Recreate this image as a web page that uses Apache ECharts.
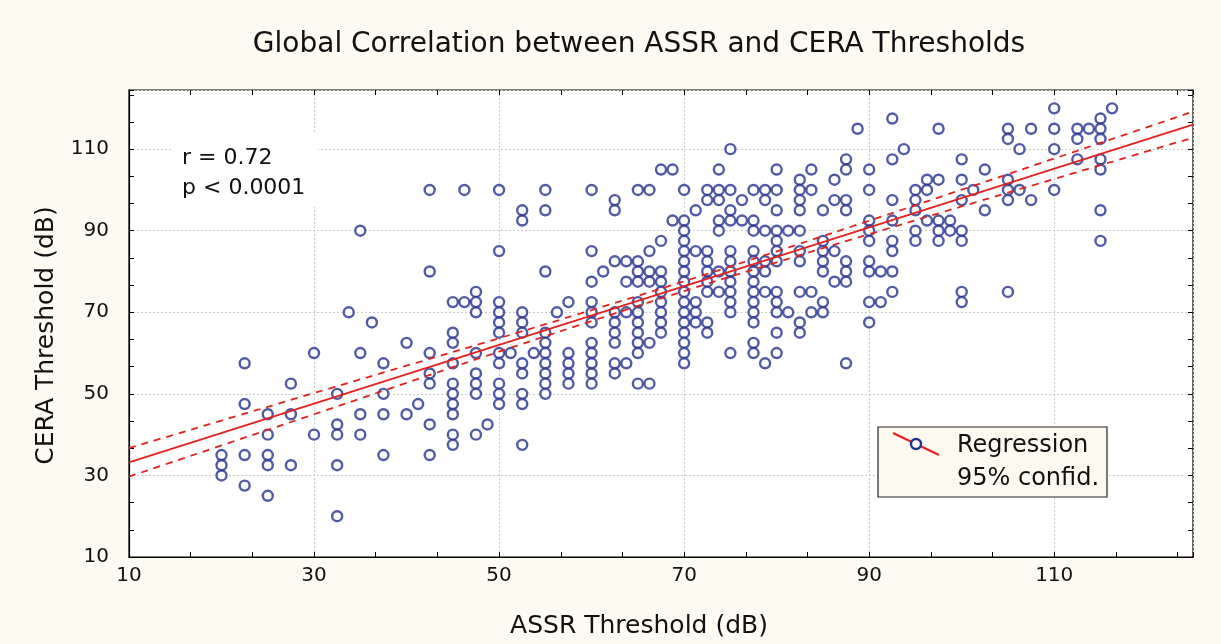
<!DOCTYPE html>
<html><head><meta charset="utf-8">
<script src="https://cdn.jsdelivr.net/npm/echarts@6/dist/echarts.min.js"></script>
<style>html,body{margin:0;padding:0;background:#fcfaf1;}#c{width:1221px;height:644px;}</style>
</head><body><div id="c"></div>
<script>
const titleText = 'Global Correlation between ASSR and CERA Thresholds';
const xName = 'ASSR Threshold (dB)';
const yName = 'CERA Threshold (dB)';
const xTicks = [10, 30, 50, 70, 90, 110];
const yTicks = [10, 30, 50, 70, 90, 110];

// ASSR threshold columns and the CERA thresholds observed at each
const assrLevels = [20, 22.5, 25, 27.5, 30, 32.5, 33.75, 35, 36.25, 37.5, 40, 41.25, 42.5, 45, 46.25, 47.5, 48.75, 50, 51.25, 52.5, 53.75, 55, 56.25, 57.5, 60, 61.25, 62.5, 63.75, 65, 66.25, 67.5, 68.75, 70, 71.25, 72.5, 73.75, 75, 76.25, 77.5, 78.75, 80, 81.25, 82.5, 83.75, 85, 86.25, 87.5, 88.75, 90, 91.25, 92.5, 93.75, 95, 96.25, 97.5, 98.75, 100, 101.25, 102.5, 105, 106.25, 107.5, 110, 112.5, 113.75, 115, 116.25];
const ceraAtLevel = [
  [35, 32.5, 30],
  [57.5, 47.5, 35, 27.5],
  [45, 40, 35, 32.5, 25],
  [52.5, 45, 32.5],
  [60, 40],
  [50, 42.5, 40, 32.5, 20],
  [70],
  [90, 60, 45, 40],
  [67.5],
  [57.5, 50, 45, 35],
  [62.5, 45],
  [47.5],
  [100, 80, 60, 55, 52.5, 42.5, 35],
  [72.5, 65, 62.5, 57.5, 52.5, 50, 47.5, 45, 40, 37.5],
  [100, 72.5],
  [75, 72.5, 70, 60, 55, 52.5, 50, 40],
  [42.5],
  [100, 85, 72.5, 70, 67.5, 65, 60, 57.5, 52.5, 50, 47.5],
  [60],
  [95, 92.5, 70, 67.5, 65, 57.5, 55, 50, 47.5, 37.5],
  [60],
  [100, 95, 80, 65, 62.5, 60, 57.5, 55, 52.5, 50],
  [70],
  [72.5, 60, 57.5, 55, 52.5],
  [100, 85, 77.5, 72.5, 70, 67.5, 62.5, 60, 57.5, 55, 52.5],
  [80],
  [97.5, 95, 82.5, 70, 67.5, 65, 62.5, 57.5, 55],
  [82.5, 77.5, 70, 57.5],
  [100, 82.5, 80, 77.5, 72.5, 70, 67.5, 65, 62.5, 60, 52.5],
  [100, 85, 80, 77.5, 62.5, 52.5],
  [105, 87.5, 80, 77.5, 75, 72.5, 70, 67.5, 65],
  [105, 92.5],
  [100, 92.5, 90, 87.5, 85, 82.5, 80, 77.5, 75, 72.5, 70, 67.5, 65, 62.5, 60, 57.5],
  [95, 85, 72.5, 70, 67.5],
  [100, 97.5, 85, 82.5, 80, 77.5, 75, 67.5, 65],
  [105, 100, 97.5, 92.5, 90, 80, 75],
  [110, 100, 95, 92.5, 85, 82.5, 80, 77.5, 75, 72.5, 70, 60],
  [97.5, 92.5],
  [100, 92.5, 90, 85, 82.5, 80, 77.5, 75, 72.5, 70, 67.5, 62.5, 60],
  [100, 97.5, 90, 82.5, 80, 75, 57.5],
  [105, 100, 95, 90, 87.5, 85, 82.5, 75, 72.5, 70, 65, 60],
  [90, 70],
  [102.5, 100, 97.5, 95, 90, 85, 82.5, 75, 67.5, 65],
  [105, 100, 75, 70],
  [95, 87.5, 85, 82.5, 80, 72.5, 70],
  [102.5, 97.5, 85, 77.5],
  [107.5, 105, 97.5, 95, 82.5, 80, 77.5, 57.5],
  [115],
  [105, 100, 92.5, 90, 87.5, 82.5, 80, 72.5, 67.5],
  [80, 72.5],
  [117.5, 107.5, 97.5, 92.5, 87.5, 85, 80, 75],
  [110],
  [100, 97.5, 95, 90, 87.5],
  [102.5, 100, 92.5],
  [115, 102.5, 92.5, 90, 87.5],
  [92.5, 90],
  [107.5, 102.5, 97.5, 90, 87.5, 75, 72.5],
  [100],
  [105, 95],
  [115, 112.5, 102.5, 100, 97.5, 75],
  [110, 100],
  [115, 97.5],
  [120, 115, 110, 100],
  [115, 112.5, 107.5],
  [115],
  [117.5, 115, 112.5, 107.5, 105, 95, 87.5],
  [120]
];

// regression line end points and 95% confidence band
const regX = [10, 125];
const regY = [33.2, 116.0];
const bandX = [10, 20, 30, 40, 50, 60, 70, 80, 90, 100, 110, 120, 125];
const bandUpper = [36.7, 43.45, 50.2, 56.9, 63.65, 70.55, 77.6, 84.95, 92.45, 100.05, 107.7, 115.35, 119.2];
const bandLower = [29.7, 37.35, 45.0, 52.7, 60.35, 67.85, 75.2, 82.25, 89.15, 95.95, 102.7, 109.45, 112.8];

const statLines = ['r = 0.72', 'p < 0.0001'];
const legendLines = ['Regression', '95% confid.'];

const FONT = 'DejaVu Sans';
const BLUE = '#25318e';
const RED = '#e3211e';

const points = [];
assrLevels.forEach((x, i) => ceraAtLevel[i].forEach(y => points.push([x, y])));
const pair = (xs, ys) => xs.map((x, i) => [x, ys[i]]);

const chart = echarts.init(document.getElementById('c'));
const labelFmt = ticks => v => { const r = Math.round(v * 1000) / 1000; return ticks.includes(r) ? String(r) : ''; };

const tickAxisCommon = {
  type: 'value', interval: 20 / 3,
  axisLine: { show: false }, axisLabel: { show: false }, splitLine: { show: false },
  axisTick: { show: true, inside: true, length: 5, lineStyle: { color: '#000', width: 1 } }
};

chart.setOption({
  backgroundColor: '#fcfaf1',
  animation: false,
  title: {
    text: titleText, left: 634, top: 26, textAlign: 'center', padding: 5,
    textStyle: { fontFamily: FONT, fontSize: 28, fontWeight: 'normal', color: '#111' }
  },
  grid: { left: 129, right: 28, top: 90, bottom: 87, show: true, backgroundColor: '#ffffff', borderColor: '#000', borderWidth: 1.2 },
  xAxis: [
    {
      type: 'value', min: 10, max: 125, interval: 20,
      name: xName, nameLocation: 'middle', nameGap: 57,
      nameTextStyle: { fontFamily: FONT, fontSize: 25, color: '#111', padding: [0, 44, 0, 0] },
      axisLine: { show: true, lineStyle: { color: '#000', width: 1.2 } },
      axisTick: { show: false },
      axisLabel: { fontFamily: FONT, fontSize: 20, color: '#111', margin: 9, showMaxLabel: false, formatter: labelFmt(xTicks) },
      splitLine: { show: true, lineStyle: { color: '#cccccc', type: [2, 2], width: 1 } }
    },
    Object.assign({ position: 'bottom', min: 10, max: 125 }, tickAxisCommon),
    Object.assign({ position: 'top', min: 10, max: 125 }, tickAxisCommon)
  ],
  yAxis: [
    {
      type: 'value', min: 10, max: 124.5, interval: 20,
      name: yName, nameLocation: 'middle', nameGap: 70,
      nameTextStyle: { fontFamily: FONT, fontSize: 25, color: '#111', padding: [0, 24, 0, 0] },
      axisLine: { show: true, lineStyle: { color: '#000', width: 1.2 } },
      axisTick: { show: false },
      axisLabel: { fontFamily: FONT, fontSize: 20, color: '#111', margin: 20, showMaxLabel: false, formatter: labelFmt(yTicks) },
      splitLine: { show: true, lineStyle: { color: '#cccccc', type: [2, 2], width: 1 } }
    },
    Object.assign({ position: 'left', min: 10, max: 124.5 }, tickAxisCommon),
    Object.assign({ position: 'right', min: 10, max: 124.5 }, tickAxisCommon)
  ],
  series: [
    {
      name: 'Data', type: 'scatter', data: points, symbol: 'circle', symbolSize: 10,
      itemStyle: { color: '#ffffff', borderColor: BLUE, borderWidth: 2.4 }, z: 2
    },
    {
      name: 'Regression', type: 'line', data: pair(regX, regY), showSymbol: false, symbol: 'none',
      lineStyle: { color: RED, width: 1.8 }, z: 3
    },
    {
      name: 'Upper 95%', type: 'line', data: pair(bandX, bandUpper), showSymbol: false, symbol: 'none', smooth: true,
      lineStyle: { color: RED, width: 1.8, type: [7, 6] }, z: 3
    },
    {
      name: 'Lower 95%', type: 'line', data: pair(bandX, bandLower), showSymbol: false, symbol: 'none', smooth: true,
      lineStyle: { color: RED, width: 1.8, type: [7, 6] }, z: 3
    }
  ],
  graphic: [
    { type: 'rect', left: 172, top: 133, shape: { width: 146, height: 74 }, style: { fill: '#ffffff' }, z: 10 },
    { type: 'text', left: 182, top: 147, style: { text: statLines[0], font: '22px "DejaVu Sans"', fill: '#111' }, z: 11 },
    { type: 'text', left: 182, top: 177, style: { text: statLines[1], font: '22px "DejaVu Sans"', fill: '#111' }, z: 11 },
    { type: 'rect', shape: { x: 878, y: 427, width: 229, height: 70 }, style: { fill: '#fcf9ee', stroke: '#222', lineWidth: 1.2 }, z: 10 },
    { type: 'line', shape: { x1: 893, y1: 433, x2: 939, y2: 455 }, style: { stroke: RED, lineWidth: 2 }, z: 11 },
    { type: 'circle', shape: { cx: 916, cy: 444, r: 5 }, style: { fill: '#fff', stroke: BLUE, lineWidth: 2.4 }, z: 12 },
    { type: 'text', x: 957, y: 446, style: { text: legendLines[0], font: '24px "DejaVu Sans"', fill: '#111', textVerticalAlign: 'middle' }, z: 11 },
    { type: 'text', x: 957, y: 479, style: { text: legendLines[1], font: '24px "DejaVu Sans"', fill: '#111', textVerticalAlign: 'middle' }, z: 11 }
  ]
});
</script></body></html>
